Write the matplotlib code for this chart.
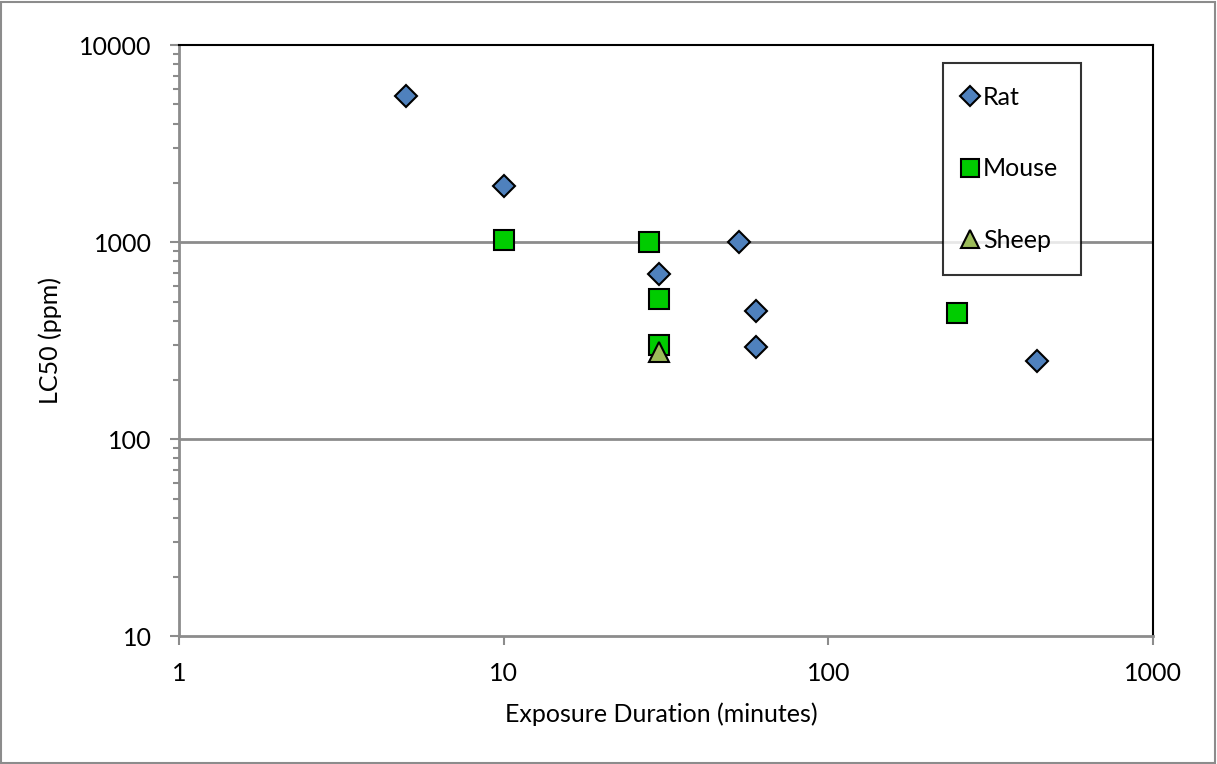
import matplotlib.pyplot as plt
from matplotlib.patches import Rectangle
from matplotlib.ticker import LogLocator, FixedLocator, NullFormatter

plt.rcParams['font.family'] = ['Lato', 'DejaVu Sans']

# LC50 data
rat_minutes = [5, 10, 30, 53, 60, 60, 440]
rat_ppm = [5500, 1930, 690, 1000, 450, 295, 250]

mouse_minutes = [10, 28, 30, 30, 250]
mouse_ppm = [1030, 1000, 515, 302, 438]

sheep_minutes = [30]
sheep_ppm = [278]

x_ticks = [1, 10, 100, 1000]
y_ticks = [10, 100, 1000, 10000]

GRID = '#8c8c8c'
FS = 18

fig = plt.figure(figsize=(12.17, 7.64), dpi=100)
ax = fig.add_axes([0.147, 0.167, 0.8004, 0.774])

ax.set_xscale('log')
ax.set_yscale('log')
ax.set_xlim(1, 1000)
ax.set_ylim(10, 10000)

# horizontal gridlines only
for v in y_ticks[1:-1]:
    ax.axhline(v, color=GRID, lw=2, zorder=1)

ax.plot(rat_minutes, rat_ppm, linestyle='none', marker='D', ms=11,
        mfc='#4F81BD', mec='black', mew=1.5, label='Rat', zorder=3)
ax.plot(mouse_minutes, mouse_ppm, linestyle='none', marker='s', ms=14,
        mfc='#00CC00', mec='black', mew=1.5, label='Mouse', zorder=3)
ax.plot(sheep_minutes, sheep_ppm, linestyle='none', marker='^', ms=15,
        mfc='#9BBB59', mec='black', mew=1.5, label='Sheep', zorder=4)

ax.xaxis.set_major_locator(FixedLocator(x_ticks))
ax.xaxis.set_minor_locator(FixedLocator([]))
ax.set_xticklabels([str(t) for t in x_ticks])
ax.yaxis.set_major_locator(FixedLocator(y_ticks))
ax.yaxis.set_minor_locator(LogLocator(base=10, subs=range(2, 10)))
ax.yaxis.set_minor_formatter(NullFormatter())
ax.set_yticklabels([str(t) for t in y_ticks])

ax.tick_params(axis='both', which='major', direction='out', length=6.5,
               width=1.5, color=GRID, labelsize=FS, pad=13)
ax.tick_params(axis='y', which='minor', direction='out', length=4.3,
               width=1.5, color=GRID)
ax.tick_params(axis='x', which='major', pad=12)

for side in ['top', 'right']:
    ax.spines[side].set_color('black')
    ax.spines[side].set_linewidth(1.5)
for side in ['left', 'bottom']:
    ax.spines[side].set_color(GRID)
    ax.spines[side].set_linewidth(2)

ax.set_xlabel('Exposure Duration (minutes)', fontsize=FS)
ax.xaxis.set_label_coords(0.4954, -0.112)
ax.set_ylabel('LC50 (ppm)', fontsize=FS)
ax.yaxis.set_label_coords(-0.12, 0.5)

leg = ax.legend(loc='upper left', bbox_to_anchor=(0.7844, 0.9695), fontsize=FS,
                frameon=True, fancybox=False, edgecolor='black', borderaxespad=0,
                labelspacing=1.95, handletextpad=0.3, borderpad=0.9,
                handlelength=0.4, markerscale=0.88)
leg.get_frame().set_linewidth(1.5)

fig.patches.append(Rectangle((0.001, 0.001), 0.997, 0.997, transform=fig.transFigure,
                             fill=False, edgecolor='#8c8c8c', lw=1.5))

fig.savefig('out.png', dpi=100)
